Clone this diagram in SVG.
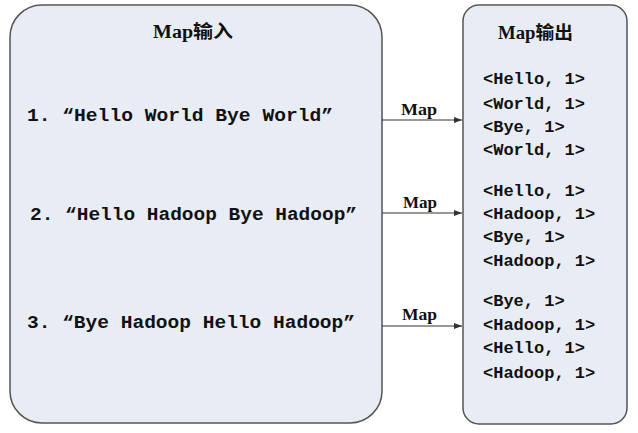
<svg xmlns="http://www.w3.org/2000/svg" width="638" height="433" viewBox="0 0 638 433">
<style>
.box{fill:#e8edf5;stroke:#555;stroke-width:1.5}
.t{font-family:"Liberation Mono","DejaVu Sans Mono","Noto Sans CJK SC",monospace;font-weight:bold;fill:#111}
.in{font-size:19px}
.out{font-size:17px}
.ttl{font-family:"Liberation Serif","Noto Sans CJK SC",serif;font-weight:bold;font-size:18px;fill:#111}
.lbl{font-family:"Liberation Serif","Noto Sans CJK SC",serif;font-weight:bold;font-size:17px;fill:#111}
.c{stroke:#333;stroke-width:1;fill:none}
</style>
<defs>
<marker id="ah" markerWidth="8" markerHeight="6" refX="8" refY="3" orient="auto" markerUnits="userSpaceOnUse">
<path d="M0,0 L8,3 L0,6 z" fill="#333"/>
</marker>
</defs>
<rect width="638" height="433" fill="#fff"/>
<g id="map-input">
<rect class="box" x="10" y="5" width="372" height="418" rx="32" ry="32"/>
<text class="ttl" x="153" y="38" textLength="80" lengthAdjust="spacingAndGlyphs">Map输入</text>
<text class="t in" x="27" y="121" textLength="306" lengthAdjust="spacingAndGlyphs">1. “Hello World Bye World”</text>
<text class="t in" x="30" y="220" textLength="327" lengthAdjust="spacingAndGlyphs">2. “Hello Hadoop Bye Hadoop”</text>
<text class="t in" x="27" y="328" textLength="328" lengthAdjust="spacingAndGlyphs">3. “Bye Hadoop Hello Hadoop”</text>
</g>
<g id="map-output">
<rect class="box" x="463" y="5" width="164" height="419" rx="16" ry="16"/>
<text class="ttl" x="498" y="39" textLength="75" lengthAdjust="spacingAndGlyphs">Map输出</text>
<g class="t out">
<text x="483" y="84">&lt;Hello, 1&gt;</text>
<text x="483" y="109">&lt;World, 1&gt;</text>
<text x="483" y="132">&lt;Bye, 1&gt;</text>
<text x="483" y="155">&lt;World, 1&gt;</text>
<text x="483" y="196">&lt;Hello, 1&gt;</text>
<text x="483" y="219">&lt;Hadoop, 1&gt;</text>
<text x="483" y="242">&lt;Bye, 1&gt;</text>
<text x="483" y="266">&lt;Hadoop, 1&gt;</text>
<text x="483" y="306">&lt;Bye, 1&gt;</text>
<text x="483" y="330">&lt;Hadoop, 1&gt;</text>
<text x="483" y="353">&lt;Hello, 1&gt;</text>
<text x="483" y="378">&lt;Hadoop, 1&gt;</text>
</g>
</g>
<g id="connectors">
<line class="c" x1="382" y1="120" x2="462" y2="120" marker-end="url(#ah)"/>
<line class="c" x1="382" y1="213" x2="462" y2="213" marker-end="url(#ah)"/>
<line class="c" x1="382" y1="326" x2="462" y2="326" marker-end="url(#ah)"/>
<text class="lbl" x="401" y="115" textLength="36" lengthAdjust="spacingAndGlyphs">Map</text>
<text class="lbl" x="403" y="208" textLength="34" lengthAdjust="spacingAndGlyphs">Map</text>
<text class="lbl" x="402" y="320" textLength="35" lengthAdjust="spacingAndGlyphs">Map</text>
</g>
</svg>
